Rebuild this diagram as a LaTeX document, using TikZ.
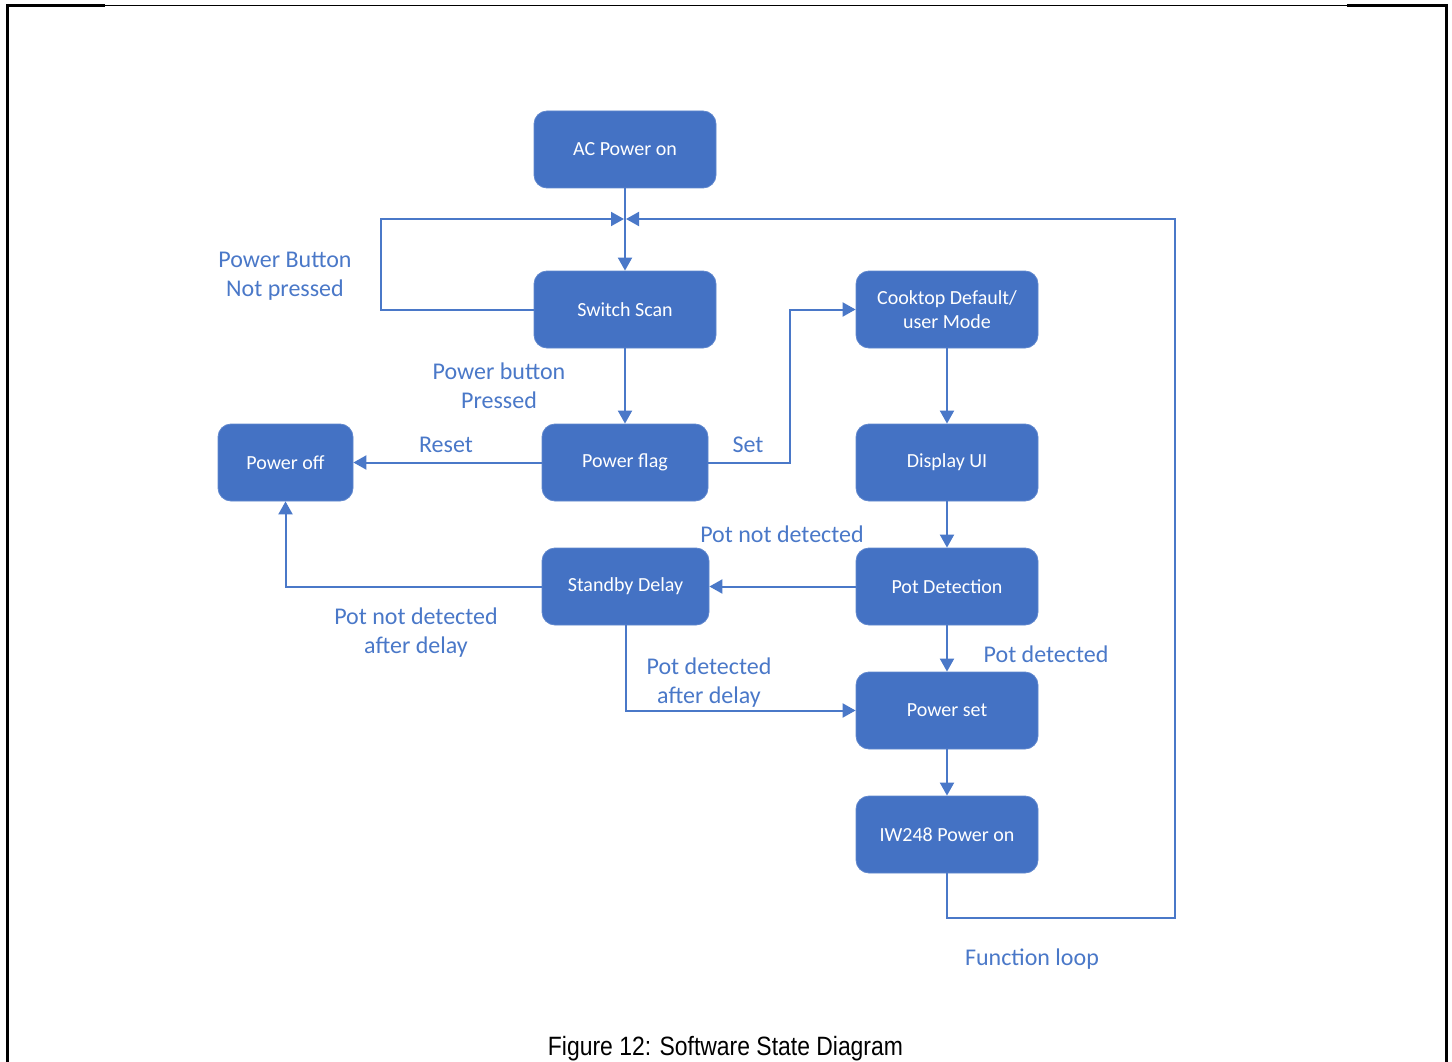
\documentclass[tikz,border=0pt]{standalone}
\usepackage{fontspec}
\setmainfont{Carlito}
\newfontfamily\capfont[FakeStretch=0.865]{Liberation Sans}
\usetikzlibrary{arrows.meta}
\definecolor{boxblue}{HTML}{4472C4}
\definecolor{lineblue}{HTML}{4A78C8}
\tikzset{
  state/.style={fill=boxblue, draw=boxblue!85!white, line width=0.8pt, rounded corners=13pt,
    minimum width=182pt, minimum height=77pt, text=white, inner sep=0pt,
    font=\fontsize{20}{24}\selectfont, align=center},
  lbl/.style={text=lineblue, font=\fontsize{24}{29}\selectfont, align=center, inner sep=0pt},
  conn/.style={draw=lineblue, line width=2pt, -{Triangle[length=13pt,width=14pt]}},
  plain/.style={draw=lineblue, line width=2pt}
}
\begin{document}
\begin{tikzpicture}[x=1pt,y=-1pt]
\useasboundingbox (0,0) rectangle (1452,1062);
% page frame
\draw[line width=3pt] (7,1062) -- (7,6) -- (105,6);
\draw[line width=1pt] (105,5.5) -- (1347,5.5);
\draw[line width=3pt] (1347,6) -- (1446,6) -- (1446,1062);

% states
\node[state] (ac) at (625,149.5) {AC Power on};
\node[state] (scan) at (625,309.5) {Switch Scan};
\node[state, minimum width=166pt] (flag) at (625,462.5) {Power flag};
\node[state, minimum width=135pt] (off) at (285.5,462.5) {Power off};
\node[state] (cook) at (947,309.5) {Cooktop Default/\\user Mode};
\node[state] (disp) at (947,462.5) {Display UI};
\node[state] (pot) at (947,586.5) {Pot Detection};
\node[state, minimum width=167pt] (stby) at (625.5,586.5) {Standby Delay};
\node[state] (pset) at (947,710.5) {Power set};
\node[state] (iw) at (947,834.5) {IW248 Power on};

% helper coordinates
\coordinate (merge) at (625,219);
\coordinate (lcorner) at (381,219);
\coordinate (rcorner) at (1175,918);
\coordinate (rtop) at (1175,219);
\coordinate (sx) at (790,462.5);

% connectors
\draw[conn] (ac.south) -- (scan.north);
\draw[conn, shorten >=1pt] (scan.west) -| (lcorner) -- (merge);
\draw[conn, shorten >=1pt] (iw.south) |- (rcorner) -- (rtop) -- (merge);
\draw[conn] (scan.south) -- (flag.north);
\draw[conn] (flag.west) -- (off.east);
\draw[conn] (flag.east) -- (sx) |- (cook.west);
\draw[conn] (cook.south) -- (disp.north);
\draw[conn] (disp.south) -- (pot.north);
\draw[conn] (pot.west) -- (stby.east);
\draw[conn] (stby.west) -| (off.south);
\draw[conn] (stby.south) |- (pset.west);
\draw[conn] (pot.south) -- (pset.north);
\draw[conn] (pset.south) -- (iw.north);

% labels
\node[lbl] (l1) at (285,276) {Power Button\\Not pressed};
\node[lbl] (l2) at (499,386) {Power button\\Pressed};
\node[lbl] (l3) at (446,445) {Reset};
\node[lbl] (l4) at (748,445) {Set};
\node[lbl] (l5) at (782,534) {Pot not detected};
\node[lbl] (l6) at (416,633) {Pot not detected\\after delay};
\node[lbl] (l7) at (709,683) {Pot detected\\after delay};
\node[lbl] (l8) at (1046,654) {Pot detected};
\node[lbl] (l9) at (1032,959) {Function loop};

% caption
\node[font=\capfont\fontsize{26.5}{30}\selectfont, anchor=base, inner sep=0pt] (cap) at (725.5,1055) {Figure 12: Software State Diagram};
\end{tikzpicture}
\end{document}
